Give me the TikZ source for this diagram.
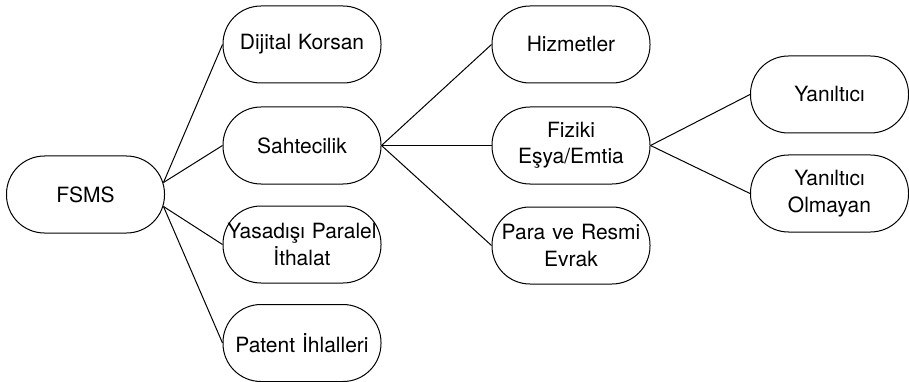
\documentclass[tikz,border=0pt]{standalone}
\usepackage{fontspec}
\setmainfont{TeX Gyre Heros}
\begin{document}
\begin{tikzpicture}[x=1pt,y=-1pt,
  pill/.style={draw=black, line width=1pt, rounded corners=38pt, minimum width=158pt, minimum height=77pt,
    text width=156pt, align=center, inner sep=0pt, font=\fontsize{21}{26.5}\selectfont},
  link/.style={draw=black, line width=1pt}]
\useasboundingbox (0,0) rectangle (909,382);
\node[pill] (fsms) at (85.5,194.5) {FSMS};
\node[pill] (dk) at (302,44.5) {Dijital Korsan};
\node[pill] (sah) at (302,145.5) {Sahtecilik};
\node[pill] (yas) at (302,244.5) {Yasadışı Paralel\\İthalat};
\node[pill] (pat) at (302,343) {Patent İhlalleri};
\node[pill] (hiz) at (571,44.5) {Hizmetler};
\node[pill] (fiz) at (571,145.5) {Fiziki\\Eşya/Emtia};
\node[pill] (para) at (571,245.5) {Para ve Resmi\\Evrak};
\node[pill] (yan) at (829.5,94.5) {Yanıltıcı};
\node[pill] (yano) at (829.5,193.5) {Yanıltıcı\\Olmayan};
\coordinate (fu) at ([shift={(-1.5,-12)}]fsms.east);
\coordinate (fd) at ([shift={(-1.5,12)}]fsms.east);
\draw[link] (fu) -- (dk.west);
\draw[link] (fu) -- (sah.west);
\draw[link] (fd) -- (yas.west);
\draw[link] (fd) -- (pat.west);
\draw[link] (sah.east) -- (hiz.west);
\draw[link] (sah.east) -- (fiz.west);
\draw[link] (sah.east) -- (para.west);
\draw[link] (fiz.east) -- (yan.west);
\draw[link] (fiz.east) -- (yano.west);
\end{tikzpicture}
\end{document}
